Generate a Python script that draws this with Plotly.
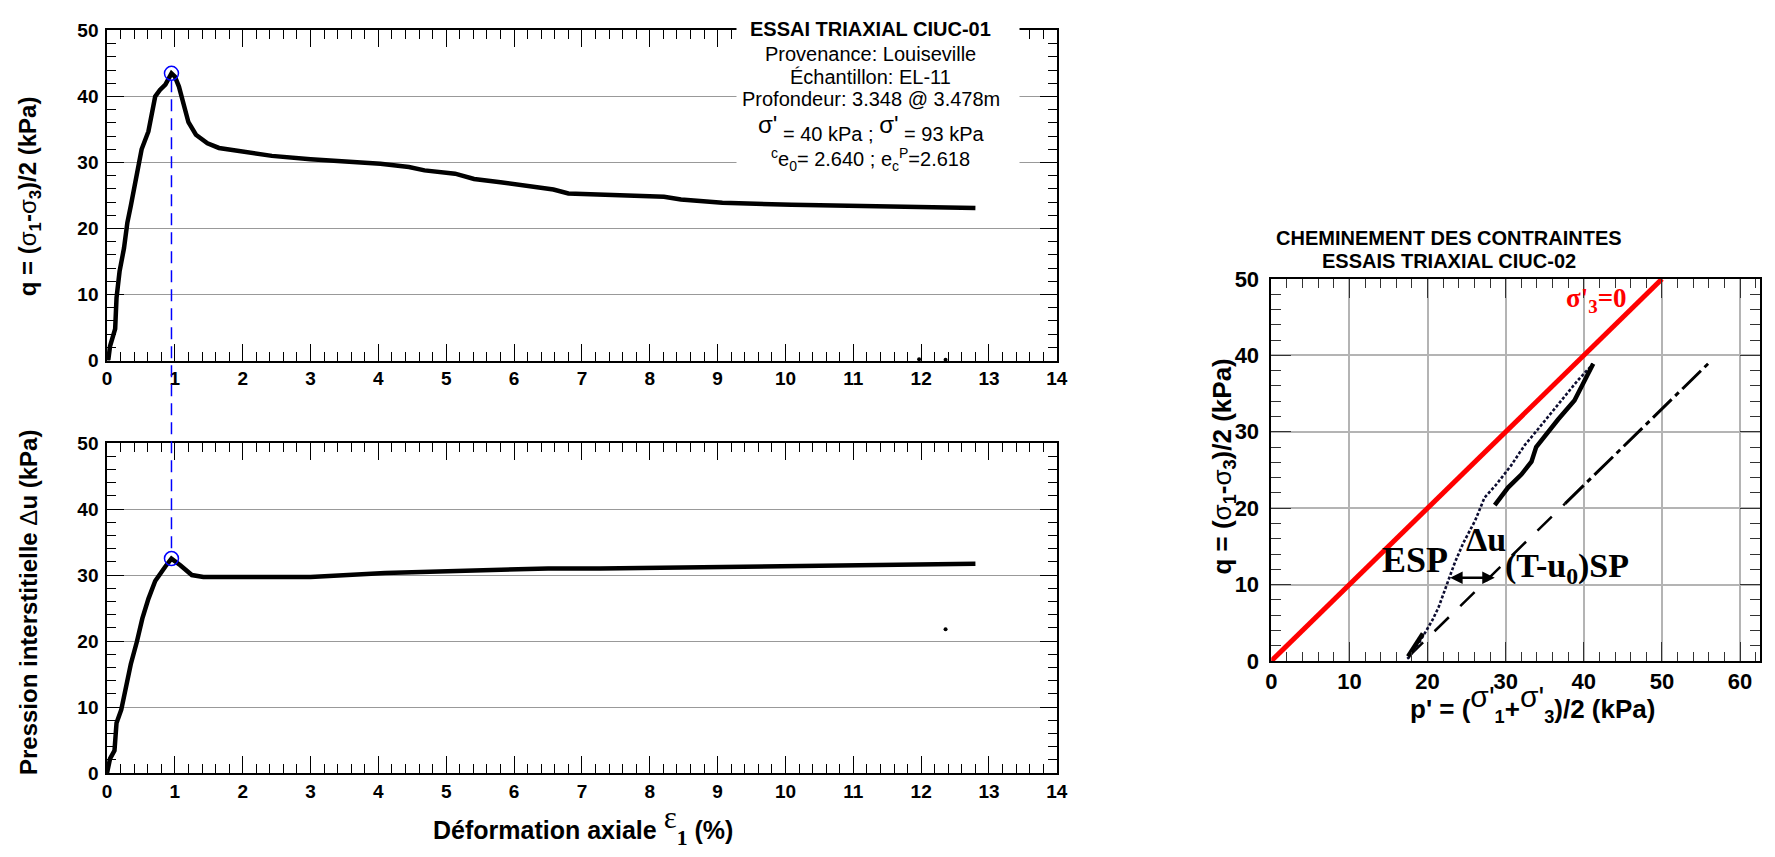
import plotly.graph_objects as go

W, H = 1775, 857

# ---------------- data ----------------
eps_q = [0, 0.02, 0.045, 0.1, 0.12, 0.14, 0.185, 0.25, 0.3, 0.35, 0.44, 0.51, 0.61, 0.71, 0.78, 0.86,
         0.95, 1.0, 1.06, 1.1, 1.2, 1.31, 1.48, 1.65, 2.01, 2.43, 3.0, 3.56, 4.03, 4.45, 4.68, 5.13,
         5.41, 5.8, 6.13, 6.58, 6.8, 7.26, 7.55, 8.21, 8.46, 9.07, 10.09, 11.6, 12.8]
q_vals = [0, 0.2, 2.2, 4.2, 4.8, 9.5, 13.5, 17.0, 20.9, 23.4, 28.3, 32.0, 34.7, 40.0, 41.0, 41.8,
          43.5, 43.0, 41.5, 39.8, 36.1, 34.2, 32.9, 32.2, 31.6, 31.0, 30.5, 30.1, 29.8, 29.3, 28.8, 28.3,
          27.5, 27.0, 26.5, 25.9, 25.3, 25.1, 25.0, 24.8, 24.4, 23.9, 23.6, 23.4, 23.1]

eps_u = [0, 0.045, 0.11, 0.14, 0.21, 0.3, 0.35, 0.44, 0.52, 0.61, 0.71, 0.86, 0.95, 1.08, 1.25,
         1.42, 2.15, 3.0, 4.1, 5.24, 6.5, 7.26, 8.06, 9.59, 11.1, 12.8]
du_vals = [0, 2.2, 3.4, 7.6, 9.6, 14.5, 16.5, 19.9, 23.4, 26.4, 29.1, 31.3, 32.5, 31.5, 30.0,
           29.7, 29.7, 29.7, 30.3, 30.7, 31.0, 31.0, 31.1, 31.3, 31.4, 31.7]

stray_q_eps = [11.97, 12.36]
stray_q = [0.2, 0.1]
stray_u_eps = [12.36]
stray_u = [21.8]

peak_eps = [0.95]
peak_q = [43.5]
peak_du = [32.5]

# stress paths
sig3_p = [0, 50]
sig3_q = [0, 50]
esp_p = [17.4, 17.6, 18.9, 20.6, 21.4, 22.5, 23.5, 24.6, 26.1, 27.3, 28.8, 30.7, 32.4, 34.1, 35.8, 37.5, 39.2, 41.2]
esp_q = [0.3, 0.45, 2.35, 5.3, 7.0, 10.0, 12.9, 15.5, 18.4, 21.4, 23.1, 25.6, 28.2, 30.3, 32.4, 34.5, 36.7, 38.9]
esp2_p = [17.5, 18.3, 19.4, None, 28.6, 29.3, 30.3, 32.0, 33.3, 33.9, 35.0, 36.7, 38.8, 41.2]
esp2_q = [0.6, 1.8, 3.6, None, 20.4, 21.3, 22.7, 24.4, 26.1, 28.0, 29.5, 31.6, 34.1, 38.9]
tsp_lo_p = [17.6, 37.6]
tsp_lo_q = [0.6, 20.6]
tsp_hi_p = [37.6, 56.0]
tsp_hi_q = [20.6, 39.0]
du_arrow_p = [22.7, 28.6]
du_arrow_q = 10.9

info_lines = [
    "<b>ESSAI TRIAXIAL CIUC-01</b>",
    "Provenance: Louiseville",
    "Échantillon: EL-11",
    "Profondeur: 3.348 @ 3.478m",
]
right_title = ["CHEMINEMENT DES CONTRAINTES", "ESSAIS TRIAXIAL CIUC-02"]

# ---------------- layout helpers ----------------
def dom_x(a, b):
    return [a / W, b / W]

def dom_y(top, bottom):
    return [1 - bottom / H, 1 - top / H]

LX = dom_x(102, 1061)
TY = dom_y(19, 359)
BY = dom_y(444, 784)
RX = dom_x(1277.5, 1770.6)
RY = dom_y(275, 668.5)

SANS = "Liberation Sans"
SERIF = "Liberation Serif"

def axis(domain, anchor, rng, dtick, mdtick, grid, fs, gridcolor="#999999", gw=1,
         tl=17, mtl=9, standoff=0, tickcolor="black"):
    return dict(domain=domain, anchor=anchor, range=rng, dtick=dtick, tick0=0,
                showline=True, linecolor="black", linewidth=1.5, mirror="allticks",
                ticks="inside", ticklen=tl, tickwidth=1.3, tickcolor=tickcolor,
                zeroline=False, showgrid=grid, gridcolor=gridcolor, gridwidth=gw,
                tickfont=dict(family=SANS, size=fs, color="black", weight="bold"),
                ticklabelstandoff=standoff,
                minor=dict(ticks="inside", ticklen=mtl, dtick=mdtick, tick0=0,
                           tickwidth=1.3, tickcolor=tickcolor, showgrid=False))

fig = go.Figure()

# top-left: q vs eps
fig.add_trace(go.Scatter(x=eps_q, y=q_vals, xaxis="x", yaxis="y", mode="lines",
                         line=dict(color="black", width=4.5), showlegend=False))
fig.add_trace(go.Scatter(x=stray_q_eps, y=stray_q, xaxis="x", yaxis="y", mode="markers",
                         marker=dict(color="black", size=4), cliponaxis=False, showlegend=False))
fig.add_trace(go.Scatter(x=peak_eps, y=peak_q, xaxis="x", yaxis="y", mode="markers",
                         marker=dict(symbol="circle-open", size=14, color="blue",
                                     line=dict(width=1.5, color="blue")), showlegend=False))

# bottom-left: du vs eps
fig.add_trace(go.Scatter(x=eps_u, y=du_vals, xaxis="x2", yaxis="y2", mode="lines",
                         line=dict(color="black", width=4.5), showlegend=False))
fig.add_trace(go.Scatter(x=stray_u_eps, y=stray_u, xaxis="x2", yaxis="y2", mode="markers",
                         marker=dict(color="black", size=4), showlegend=False))
fig.add_trace(go.Scatter(x=peak_eps, y=peak_du, xaxis="x2", yaxis="y2", mode="markers",
                         marker=dict(symbol="circle-open", size=14, color="blue",
                                     line=dict(width=1.5, color="blue")), showlegend=False))

# right: stress paths
fig.add_trace(go.Scatter(x=sig3_p, y=sig3_q, xaxis="x3", yaxis="y3", mode="lines",
                         line=dict(color="red", width=5), showlegend=False))
fig.add_trace(go.Scatter(x=tsp_lo_p, y=tsp_lo_q, xaxis="x3", yaxis="y3", mode="lines",
                         line=dict(color="black", width=2.5, dash="20px,16px"), showlegend=False))
fig.add_trace(go.Scatter(x=tsp_hi_p, y=tsp_hi_q, xaxis="x3", yaxis="y3", mode="lines",
                         line=dict(color="black", width=3, dash="26px,5px,5px,5px"), showlegend=False))
fig.add_trace(go.Scatter(x=esp_p, y=esp_q, xaxis="x3", yaxis="y3", mode="lines",
                         line=dict(color="#0c0c30", width=2.6, dash="3px,2px"), showlegend=False))
fig.add_trace(go.Scatter(x=esp2_p, y=esp2_q, xaxis="x3", yaxis="y3", mode="lines",
                         line=dict(color="black", width=4.5), showlegend=False))

layout_axes = dict(
    xaxis=axis(LX, "y", [0, 14], 1, 0.2, False, 19),
    yaxis=axis(TY, "x", [0, 50], 10, 2, True, 19, standoff=3),
    xaxis2=axis(LX, "y2", [0, 14], 1, 0.2, False, 19),
    yaxis2=axis(BY, "x2", [0, 50], 10, 2, True, 19, standoff=3),
    xaxis3=axis(RX, "y3", [0, 62.5], 10, 2, True, 22, gridcolor="#b4b4b4", gw=1.5,
                tl=19, mtl=9, standoff=0, tickcolor="#333333"),
    yaxis3=axis(RY, "x3", [0, 50], 10, 2, True, 22, gridcolor="#b4b4b4", gw=1.5,
                tl=20, mtl=10, standoff=6, tickcolor="#333333"),
)

# paper coordinate of a value on an axis (for the connecting dashed line)
def to_paper(val, rng, dom):
    return dom[0] + (val - rng[0]) / (rng[1] - rng[0]) * (dom[1] - dom[0])

shapes = [dict(type="line", xref="x", yref="paper",
               x0=peak_eps[0], x1=peak_eps[0],
               y0=to_paper(peak_q[0], [0, 50], TY) - 7 / H,
               y1=to_paper(peak_du[0], [0, 50], BY) + 7 / H,
               line=dict(color="blue", width=1.5, dash="12px,7px"))]

NW = "font-weight:normal"
ann = []

def A(**kw):
    base = dict(showarrow=False, xanchor="center", yanchor="middle")
    base.update(kw)
    ann.append(base)

# axis titles (left)
A(text=f"q = (<span style='{NW}'>σ</span><sub>1</sub>-<span style='{NW}'>σ</span><sub>3</sub>)/2 (kPa)",
  xref="paper", yref="paper", x=24 / W, y=1 - 190 / H, textangle=-90,
  font=dict(family=SANS, size=24, color="black", weight="bold"))
A(text=f"Pression interstitielle <span style='{NW}'>Δ</span>u (kPa)",
  xref="paper", yref="paper", x=22 / W, y=1 - 608 / H, textangle=-90,
  font=dict(family=SANS, size=24, color="black", weight="bold"))
A(text=("Déformation axiale <sup><span style='font-family:Liberation Serif;font-weight:normal;font-size:31px'>"
        "ε</span></sup><span style='font-family:Liberation Serif;font-size:31px'><sub>1</sub></span> (%)"),
  xref="paper", yref="paper", x=583 / W, y=1 - 837 / H,
  font=dict(family=SANS, size=25, color="black", weight="bold"))

# info box: white background, then one annotation per line
A(text="", xref="paper", yref="paper", x=880 / W, y=1.0, yanchor="top",
  bgcolor="white", borderpad=0, width=282, height=176)
info_y = [18, 43, 67, 90]
for line, yc in zip(info_lines, info_y):
    A(text=line, xref="paper", yref="paper", x=873 / W, y=1 - yc / H,
      font=dict(family=SANS, size=20, color="black"))
sig = "<sup><span style='font-size:24px'>σ'</span></sup>"
A(text=f"{sig} = 40 kPa ; {sig} = 93 kPa", xref="paper", yref="paper", x=873 / W, y=1 - 119 / H,
  font=dict(family=SANS, size=20, color="black"))
A(text="<sup>c</sup>e<sub>0</sub>= 2.640 ; e<sub>c</sub><sup>P</sup>=2.618", xref="paper",
  yref="paper", x=873 / W, y=1 - 152 / H, font=dict(family=SANS, size=20, color="black"))

# right plot titles
for line, yc in zip(right_title, [233, 256]):
    A(text=line, xref="paper", yref="paper", x=1457 / W, y=1 - yc / H,
      font=dict(family=SANS, size=20, color="black", weight="bold"))
A(text=(f"p' = (<sup><span style='{NW};font-size:30px'>σ'</span></sup><sub>1</sub>+"
        f"<sup><span style='{NW};font-size:30px'>σ'</span></sup><sub>3</sub>)/2 (kPa)"),
  xref="paper", yref="paper", x=1541 / W, y=1 - 712 / H,
  font=dict(family=SANS, size=26, color="black", weight="bold"))
A(text=f"q = (<span style='{NW}'>σ</span><sub>1</sub>-<span style='{NW}'>σ</span><sub>3</sub>)/2 (kPa)",
  xref="paper", yref="paper", x=1229 / W, y=1 - 468 / H, textangle=-90,
  font=dict(family=SANS, size=26, color="black", weight="bold"))
# right plot labels
A(text="σ'<sub>3</sub>=0", xref="x3", yref="y3", x=41.6, y=47.3,
  font=dict(family=SERIF, size=27, color="red", weight="bold"))
A(text="ESP", xref="x3", yref="y3", x=18.4, y=13.2,
  font=dict(family=SERIF, size=36, color="black", weight="bold"))
A(text="Δu", xref="x3", yref="y3", x=27.5, y=15.9,
  font=dict(family=SERIF, size=34, color="black", weight="bold"))
A(text="(T-u<sub>0</sub>)SP", xref="x3", yref="y3", x=37.8, y=12.2,
  font=dict(family=SERIF, size=34, color="black", weight="bold"))
ann.append(dict(text="", xref="x3", yref="y3", x=du_arrow_p[1], y=du_arrow_q,
                axref="x3", ayref="y3", ax=du_arrow_p[0], ay=du_arrow_q, showarrow=True,
                arrowhead=2, arrowside="end+start", arrowsize=1, arrowwidth=2.5,
                arrowcolor="black", standoff=0, startstandoff=0))

fig.update_layout(width=W, height=H, margin=dict(l=0, r=0, t=0, b=0),
                  paper_bgcolor="white", plot_bgcolor="white", showlegend=False,
                  shapes=shapes, annotations=ann, **layout_axes)

fig.write_html("out.html")
